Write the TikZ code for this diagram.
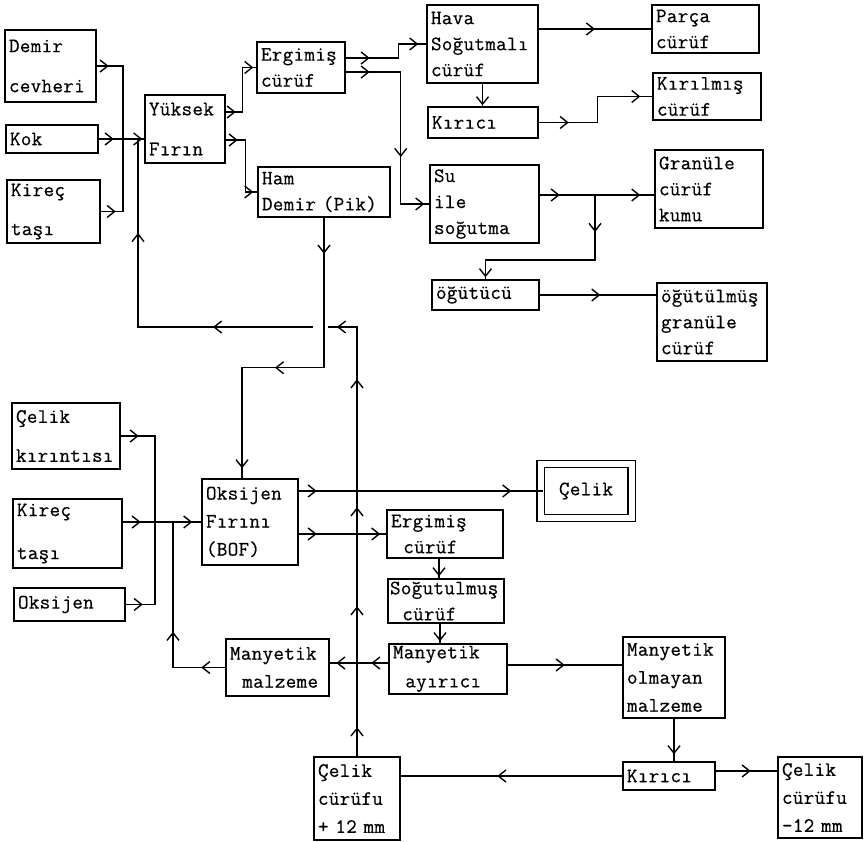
\documentclass[tikz,border=0pt]{standalone}
\usepackage{fontspec}
\setmonofont{Latin Modern Mono}[LetterSpace=1.5, FakeBold=0.5]
\usetikzlibrary{arrows.meta, decorations.markings}

\begin{document}
\begin{tikzpicture}[x=1pt, y=-1pt,
    box/.style={draw, line width=1.4pt, inner xsep=4pt, inner ysep=2pt,
        align=left, font=\ttfamily\fontsize{20.5}{26}\selectfont},
    flow/.style={line width=1.4pt},
    ar/.style={postaction={decorate, decoration={markings,
        mark=at position #1 with {\arrow{Straight Barb[length=7.5pt,width=12pt]}}}}}]

    \useasboundingbox (0,0) rectangle (864,842);

    % Blast furnace feed
    \node[box, text width=83pt, minimum height=72pt] (demir) at (50.5,66) {Demir\\[14pt]cevheri};
    \node[box, text width=84pt, minimum height=28pt] (kok) at (52,139) {Kok};
    \node[box, text width=85pt, minimum height=63pt] (kirec1) at (53.5,211.5) {Kireç\\[13pt]taşı};
    \node[box, text width=72pt, minimum height=68pt] (yuksek) at (185,129) {Yüksek\\[14pt]Fırın};

    % Blast furnace slag route
    \node[box, text width=80pt, minimum height=51pt] (ergimis1) at (301,67.5) {Ergimiş\\cürüf};
    \node[box, text width=124pt, minimum height=50pt] (ham) at (324,192) {Ham\\Demir (Pik)};
    \node[box, text width=103pt, minimum height=78pt] (hava) at (482.5,44) {Hava\\Soğutmalı\\cürüf};
    \node[box, text width=102pt, minimum height=31pt] (kirici1) at (483,122.5) {Kırıcı};
    \node[box, text width=101pt, minimum height=78pt] (su) at (484.5,204) {Su\\ile\\soğutma};
    \node[box, text width=99pt, minimum height=48pt] (parca) at (705.5,29) {Parça\\cürüf};
    \node[box, text width=100pt, minimum height=47pt] (kirilmis) at (707,96.5) {Kırılmış\\cürüf};
    \node[box, text width=100pt, minimum height=78pt] (granule) at (709,189) {Granüle\\cürüf\\kumu};
    \node[box, text width=99pt, minimum height=30pt] (ogutucu) at (485.5,295) {öğütücü};
    \node[box, text width=102pt, minimum height=78pt] (ogutulmus) at (712,322) {öğütülmüş\\granüle\\cürüf};

    % Oxygen furnace (BOF)
    \node[box, text width=100pt, minimum height=66pt] (celikkir) at (66,436) {Çelik\\[13pt]kırıntısı};
    \node[box, text width=101pt, minimum height=69pt] (kirec2) at (67.5,533.5) {Kireç\\[17pt]taşı};
    \node[box, text width=103pt, minimum height=33pt] (oksijen) at (69.5,604.5) {Oksijen};
    \node[box, text width=88pt, minimum height=86pt] (bof) at (250,522) {Oksijen\\[2pt]Fırını\\[2pt](BOF)};
    \node[box, double, double distance=6pt, align=center, minimum width=91pt,
        minimum height=54pt] (celik) at (586,491) {Çelik};

    % Steel slag route
    \node[box, text width=108pt, minimum height=48pt] (ergimis2) at (445,534) {Ergimiş\\\hspace*{.6em}cürüf};
    \node[box, inner xsep=2pt, text width=112pt, minimum height=44pt] (sogutulmus) at (446,601) {Soğutulmuş\\\hspace*{.6em}cürüf};
    \node[box, text width=110pt, minimum height=48pt] (ayirici) at (448,669) {Manyetik\\[3pt]\hspace*{.6em}ayırıcı};
    \node[box, text width=95pt, minimum height=57pt] (manmalz) at (277.5,667.5) {Manyetik\\[2pt]\hspace*{.6em}malzeme};
    \node[box, text width=94pt, minimum height=81pt] (manolm) at (674,677.5) {Manyetik\\[2pt]olmayan\\[2pt]malzeme};
    \node[box, text width=84pt, minimum height=28pt] (kirici2) at (669,776) {Kırıcı};
    \node[box, text width=78pt, minimum height=83pt] (cc12p) at (357,798.5) {Çelik\\[2pt]cürüfu\\[2pt]+ 12 mm};
    \node[box, text width=76pt, minimum height=81pt] (cc12m) at (820,797.5) {Çelik\\[2pt]cürüfu\\[2pt]-12 mm};

    % Junctions
    \coordinate (feed) at (123,139);
    \coordinate (ret) at (138,139);
    \coordinate (hopR) at (328,327);
    \coordinate (hopL) at (313,327);
    \coordinate (grbr) at (595,195);
    \coordinate (bofin) at (155,522);
    \coordinate (magin) at (173,522);

    % Feed into the blast furnace
    \draw[flow, ar=12pt] (demir.east) -| (feed);
    \draw[flow, ar=15pt] (kirec1.east) -| (feed);
    \draw[flow, ar=15pt, ar=-2pt] (kok.east) -- (kok.east -| yuksek.west);

    % Blast furnace outputs
    \draw[flow, ar=10pt, ar=-3pt] ([yshift=17pt]yuksek.east) -- ++(17,0) |- (ergimis1.west);
    \draw[flow, ar=12pt, ar=-4pt] ([yshift=-11pt]yuksek.east) -- ++(20,0) |- (ham.west);
    \draw[flow, ar=24pt, ar=-8pt] ([yshift=9.5pt]ergimis1.east) -- ++(53,0) |- (hava.west);
    \draw[flow, ar=24pt, ar=140pt, ar=-5pt] ([yshift=-4.5pt]ergimis1.east) -- ++(55,0) |- (su.west);
    \draw[flow, ar=-1pt] (hava.south) -- (hava.south |- kirici1.north);
    \draw[flow, ar=0.5] (parca.west -| hava.east) -- (parca.west);
    \draw[flow, ar=30pt, ar=-12pt] (kirici1.east) -- ++(59,0) |- (kirilmis.west);
    \draw[flow, ar=20pt, ar=-14pt] ([yshift=9pt]su.east) -- ([yshift=9pt]su.east -| granule.west);
    \draw[flow, ar=37pt, ar=-2pt] (grbr) -- ++(0,65) -| (ogutucu.north);
    \draw[flow, ar=0.52] (ogutucu.east) -- (ogutucu.east -| ogutulmus.west);

    % Pig iron to the oxygen furnace
    \draw[flow, ar=36pt, ar=199pt, ar=-10pt] (ham.south) -- ++(0,150) -| ([xshift=-8pt]bof.north);

    % Return of coarse steel slag
    \draw[flow, ar=29pt, ar=150pt, ar=249pt, ar=377pt, ar=-9pt] (cc12p.north) |- (hopR);
    \draw[flow, ar=100pt, ar=269pt] (hopL) -| (ret);

    % Feed into the oxygen furnace
    \draw[flow, ar=18pt] (celikkir.east) -| (bofin);
    \draw[flow, ar=17pt] (oksijen.east) -| (bofin);
    \draw[flow, ar=18pt, ar=-9pt] (bof.west -| kirec2.east) -- (bof.west);
    \draw[flow, ar=24pt, ar=88pt] (manmalz.west) -| (magin);

    % Oxygen furnace outputs
    \draw[flow, ar=18pt, ar=-32pt] (celik.west -| bof.east) -- ([xshift=3.5pt]celik.west);
    \draw[flow, ar=18pt, ar=-6pt] (ergimis2.west -| bof.east) -- (ergimis2.west);
    \draw[flow, ar=-2pt] ([xshift=-6pt]ergimis2.south) -- ([xshift=-6pt]ergimis2.south |- sogutulmus.north);
    \draw[flow, ar=-2pt] ([xshift=-6pt]sogutulmus.south) -- ([xshift=-6pt]sogutulmus.south |- ayirici.north);
    \draw[flow, ar=17pt, ar=52pt] ([yshift=6pt]ayirici.west) -- ([yshift=6pt]ayirici.west -| manmalz.east);
    \draw[flow, ar=57pt] ([yshift=4pt]ayirici.east) -- ([yshift=4pt]ayirici.east -| manolm.west);
    \draw[flow, ar=-7pt] (manolm.south) -- (manolm.south |- kirici2.north);
    \draw[flow, ar=35pt] ([yshift=5pt]kirici2.east) -- ([yshift=5pt]kirici2.east -| cc12m.west);
    \draw[flow, ar=125pt] (kirici2.west) -- (kirici2.west -| cc12p.east);

\end{tikzpicture}
\end{document}
